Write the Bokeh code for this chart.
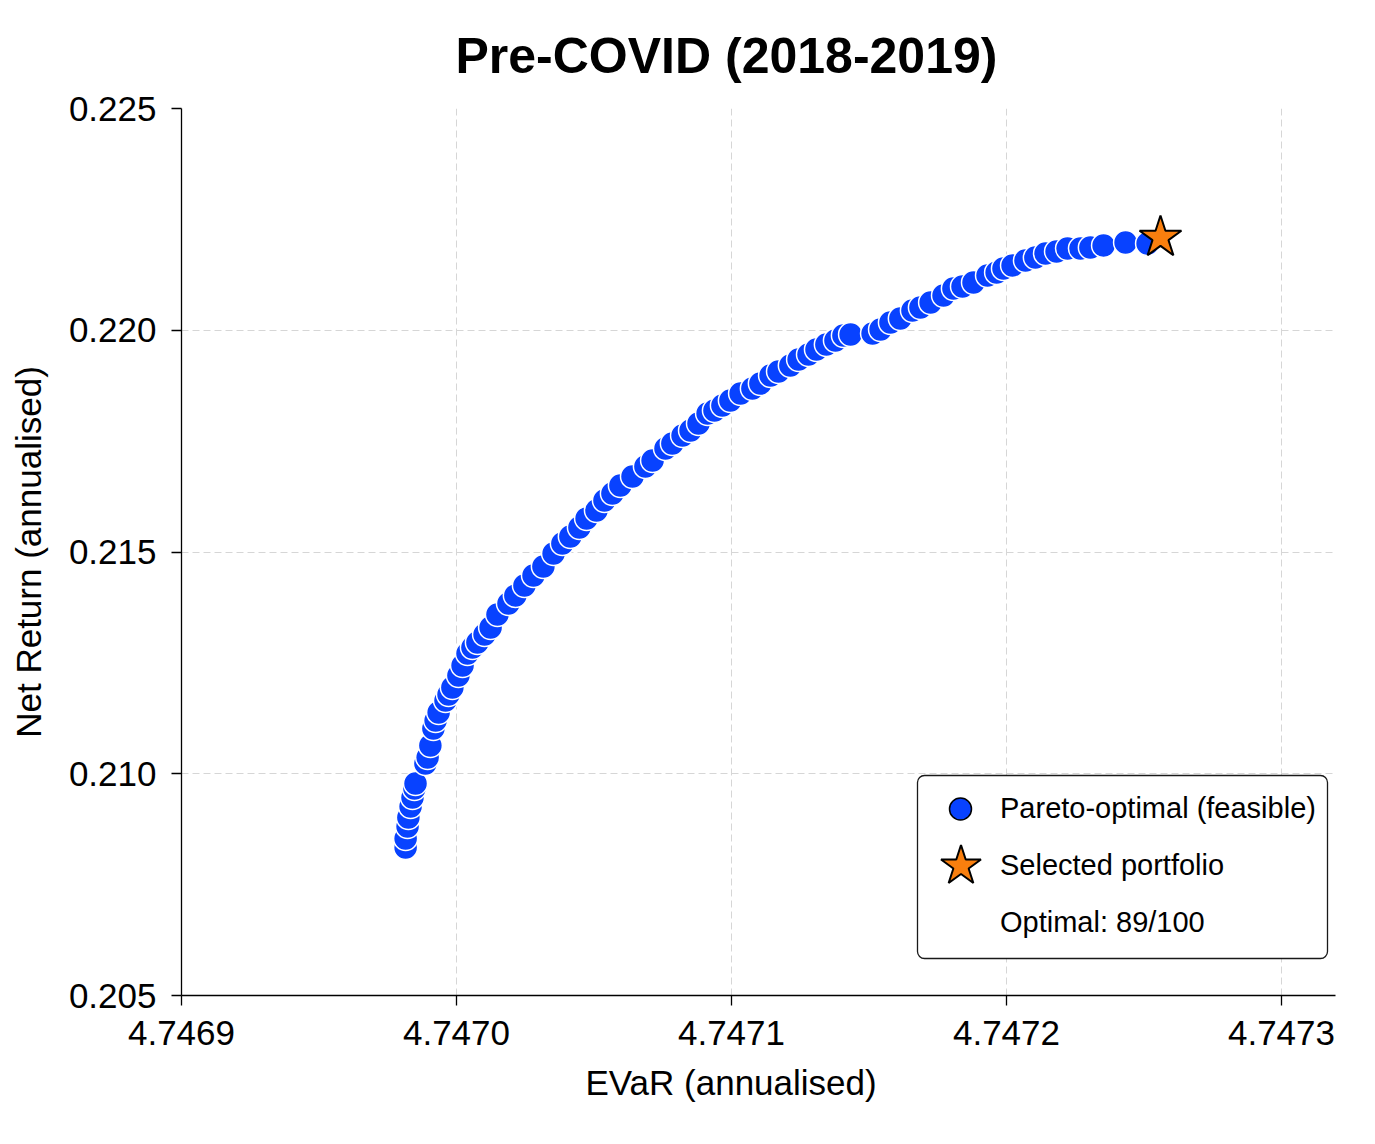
from bokeh.plotting import figure
from bokeh.models import (Range1d, FixedTicker, PrintfTickFormatter, ColumnDataSource,
                          Legend, LegendItem, Title, BoxAnnotation)
from bokeh.embed import file_html
from bokeh.resources import INLINE

# Pareto front: EVaR (annualised) vs net return (annualised), 89 feasible optimal portfolios
evar = [
    4.7469815, 4.7469815, 4.7469822, 4.7469825, 4.7469833, 4.7469840, 4.7469847, 4.7469851,
    4.7469887, 4.7469895, 4.7469905, 4.7469916, 4.7469924, 4.7469935, 4.7469960, 4.7469971,
    4.7469985, 4.7470007, 4.7470022, 4.7470040, 4.7470058, 4.7470076, 4.7470102, 4.7470124,
    4.7470149, 4.7470189, 4.7470214, 4.7470247, 4.7470280, 4.7470316, 4.7470353, 4.7470385,
    4.7470414, 4.7470447, 4.7470473, 4.7470509, 4.7470538, 4.7470567, 4.7470596, 4.7470640,
    4.7470687, 4.7470713, 4.7470760, 4.7470785, 4.7470822, 4.7470851, 4.7470880, 4.7470913,
    4.7470938, 4.7470967, 4.7470996, 4.7471033, 4.7471076, 4.7471105, 4.7471142, 4.7471171,
    4.7471214, 4.7471244, 4.7471280, 4.7471309, 4.7471345, 4.7471378, 4.7471407, 4.7471433,
    4.7471513, 4.7471542, 4.7471578, 4.7471614, 4.7471658, 4.7471687, 4.7471724, 4.7471771,
    4.7471807, 4.7471840, 4.7471880, 4.7471931, 4.7471964, 4.7471989, 4.7472022, 4.7472069,
    4.7472105, 4.7472142, 4.7472182, 4.7472222, 4.7472269, 4.7472305, 4.7472353, 4.7472433,
    4.7472513,
]
net_return = [
    0.208337, 0.208540, 0.208811, 0.209014, 0.209262, 0.209464, 0.209667, 0.209780,
    0.210231, 0.210366, 0.210637, 0.211020, 0.211201, 0.211381, 0.211652, 0.211787,
    0.211945, 0.212215, 0.212441, 0.212711, 0.212847, 0.212959, 0.213140, 0.213298,
    0.213591, 0.213839, 0.214019, 0.214245, 0.214470, 0.214673, 0.214966, 0.215192,
    0.215349, 0.215552, 0.215755, 0.215936, 0.216161, 0.216319, 0.216499, 0.216702,
    0.216928, 0.217063, 0.217334, 0.217446, 0.217627, 0.217740, 0.217897, 0.218123,
    0.218191, 0.218303, 0.218416, 0.218574, 0.218687, 0.218799, 0.218980, 0.219070,
    0.219205, 0.219340, 0.219453, 0.219566, 0.219679, 0.219769, 0.219882, 0.219904,
    0.219927, 0.220017, 0.220175, 0.220265, 0.220445, 0.220513, 0.220626, 0.220784,
    0.220941, 0.220986, 0.221077, 0.221234, 0.221302, 0.221392, 0.221460, 0.221573,
    0.221640, 0.221731, 0.221776, 0.221843, 0.221843, 0.221866, 0.221911, 0.221979,
    0.221956,
]

selected_evar = [4.7472560]
selected_return = [0.222091]

x_ticks = [4.7469, 4.7470, 4.7471, 4.7472, 4.7473]
y_ticks = [0.205, 0.210, 0.215, 0.220, 0.225]

n_optimal = len(evar)
n_total = 100

BLUE = "#0842ff"
ORANGE = "#f97f0e"
TEXT_FONT = "Liberation Sans"

p = figure(width=1375, height=1144, output_backend="svg", toolbar_location=None,
           x_range=Range1d(4.7469, 4.74731964), y_range=Range1d(0.205, 0.225),
           min_border_left=181, min_border_right=40, min_border_top=108, min_border_bottom=149,
           background_fill_color="white", border_fill_color="white")
p.outline_line_color = None

p.title.text = "Pre-COVID (2018-2019)"
p.title.align = "left"
p.title.offset = 274
p.title.standoff = 50
p.title.text_font = TEXT_FONT
p.title.text_font_size = "50px"
p.title.text_font_style = "bold"
p.title.text_color = "black"

for ax in (p.xaxis[0], p.yaxis[0]):
    ax.axis_line_color = "black"
    ax.axis_line_width = 1.3
    ax.major_tick_line_color = "black"
    ax.major_tick_line_width = 1.3
    ax.major_tick_out = 10
    ax.major_tick_in = 0
    ax.minor_tick_line_color = None
    ax.major_label_text_font = TEXT_FONT
    ax.major_label_text_font_size = "35px"
    ax.major_label_text_color = "black"
    ax.axis_label_text_font = TEXT_FONT
    ax.axis_label_text_font_size = "35px"
    ax.axis_label_text_font_style = "normal"
    ax.axis_label_text_color = "black"

p.xaxis.ticker = FixedTicker(ticks=x_ticks)
p.yaxis.ticker = FixedTicker(ticks=y_ticks)
p.xaxis.formatter = PrintfTickFormatter(format="%.4f")
p.yaxis.formatter = PrintfTickFormatter(format="%.3f")
p.xaxis.major_label_standoff = 15
p.yaxis.major_label_standoff = 15
p.yaxis.axis_label = "Net Return (annualised)"
p.yaxis.axis_label_standoff = 18

# x-axis caption drawn as a below-title so it can sit left of the frame centre
p.add_layout(Title(text="EVaR (annualised)", align="left", offset=404,
                   text_font=TEXT_FONT, text_font_size="35px", text_font_style="normal",
                   text_color="black", standoff=27), "below")

p.grid.grid_line_color = "#d6d6d6"
p.grid.grid_line_width = 1
p.grid.grid_line_dash = "7 4"
p.xgrid.ticker = FixedTicker(ticks=x_ticks)
p.ygrid.ticker = FixedTicker(ticks=y_ticks)

front_src = ColumnDataSource(dict(x=evar, y=net_return))
star_src = ColumnDataSource(dict(x=selected_evar, y=selected_return))

front = p.scatter("x", "y", source=front_src, size=24, marker="circle",
                  fill_color=BLUE, line_color="white", line_width=1.5)
star = p.scatter("x", "y", source=star_src, size=44, marker="star",
                 fill_color=ORANGE, line_color="black", line_width=2)

# hidden renderers that only supply the legend glyph styles
circle_key = p.scatter("x", "y", source=front_src, marker="circle", visible=False,
                       fill_color=BLUE, line_color="black", line_width=1.5)
star_key = p.scatter("x", "y", source=star_src, marker="star", visible=False,
                     fill_color=ORANGE, line_color="black", line_width=2)
blank_key = p.scatter("x", "y", source=ColumnDataSource(dict(x=[], y=[])), marker="circle",
                      fill_alpha=0, line_alpha=0)

# rounded legend frame
p.add_layout(BoxAnnotation(left=917, right=1327, top=775, bottom=958,
                           left_units="canvas", right_units="canvas",
                           top_units="canvas", bottom_units="canvas",
                           fill_color="white", fill_alpha=1.0,
                           line_color="black", line_width=1.3, line_alpha=0.9,
                           border_radius=7))

legend = Legend(items=[
    LegendItem(label="Pareto-optimal (feasible)", renderers=[circle_key]),
    LegendItem(label="Selected portfolio", renderers=[star_key]),
    LegendItem(label=f"Optimal: {n_optimal}/{n_total}", renderers=[blank_key]),
], location=(744, 45), margin=0, padding=0, spacing=2,
    glyph_width=70, glyph_height=55, label_standoff=5,
    label_text_font=TEXT_FONT, label_text_font_size="29px", label_text_color="black",
    border_line_color=None, background_fill_alpha=0)
p.add_layout(legend, "center")

# larger star glyph overlaid on the legend's second entry
big_star = Legend(items=[LegendItem(label=" ", renderers=[star_key])],
                  location=(726.5, 77), margin=0, padding=0, spacing=0,
                  glyph_width=105, glyph_height=105, label_standoff=0,
                  label_text_font_size="1px", border_line_color=None,
                  background_fill_alpha=0)
p.add_layout(big_star, "center")

open("out.html", "w").write(file_html(p, INLINE))
